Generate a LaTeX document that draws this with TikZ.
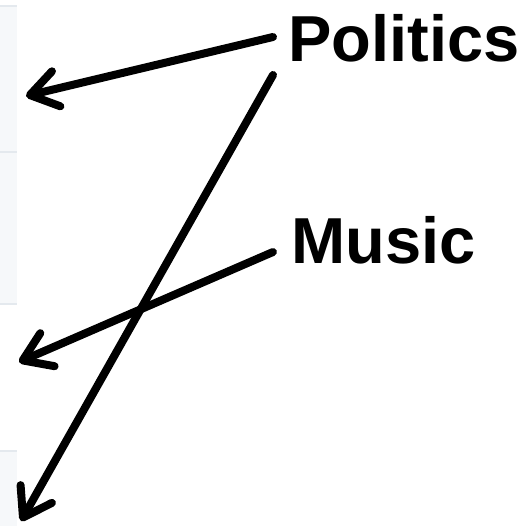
\documentclass[tikz,border=0pt]{standalone}
\usepackage{fontspec}
\setmainfont{Liberation Sans}
\usetikzlibrary{arrows.meta}
\definecolor{panelfill}{HTML}{F6F8FA}
\definecolor{panelline}{HTML}{E4E9EE}
\begin{document}
\begin{tikzpicture}[x=1pt,y=-1pt,
  panel/.style={fill=panelfill,draw=none},
  panelrule/.style={draw=panelline,line width=2pt},
  label/.style={font=\fontsize{65}{65}\selectfont\bfseries,inner sep=0pt,anchor=base west},
  pointer/.style={line width=8pt,line cap=round,-{Straight Barb[length=27pt,width=36pt,line cap=round,line join=round]}}]
\useasboundingbox (0,0) rectangle (527,526);
% background panels
\fill[panel] (0,6) rectangle (17,152);
\fill[panel] (0,153) rectangle (17,304);
\fill[panel] (0,451) rectangle (17,526);
\draw[panelrule] (0,6) -- (17,6);
\draw[panelrule] (0,152.5) -- (17,152.5);
\draw[panelrule] (0,304) -- (17,304);
\draw[panelrule] (0,451) -- (17,451);
% labels
\node[label] (politics) at (288,62) {Politics};
\node[label] (music) at (291,264) {Music};
% connector ends
\coordinate (ps1) at (273,37);
\coordinate (ps2) at (273,75);
\coordinate (ms) at (273,252);
\coordinate (t1) at (26,96);
\coordinate (t2) at (21,521);
\coordinate (t3) at (19,362);
\draw[pointer] (ps1) -- (t1);
\draw[pointer] (ps2) -- (t2);
\draw[pointer] (ms) -- (t3);
\end{tikzpicture}
\end{document}
